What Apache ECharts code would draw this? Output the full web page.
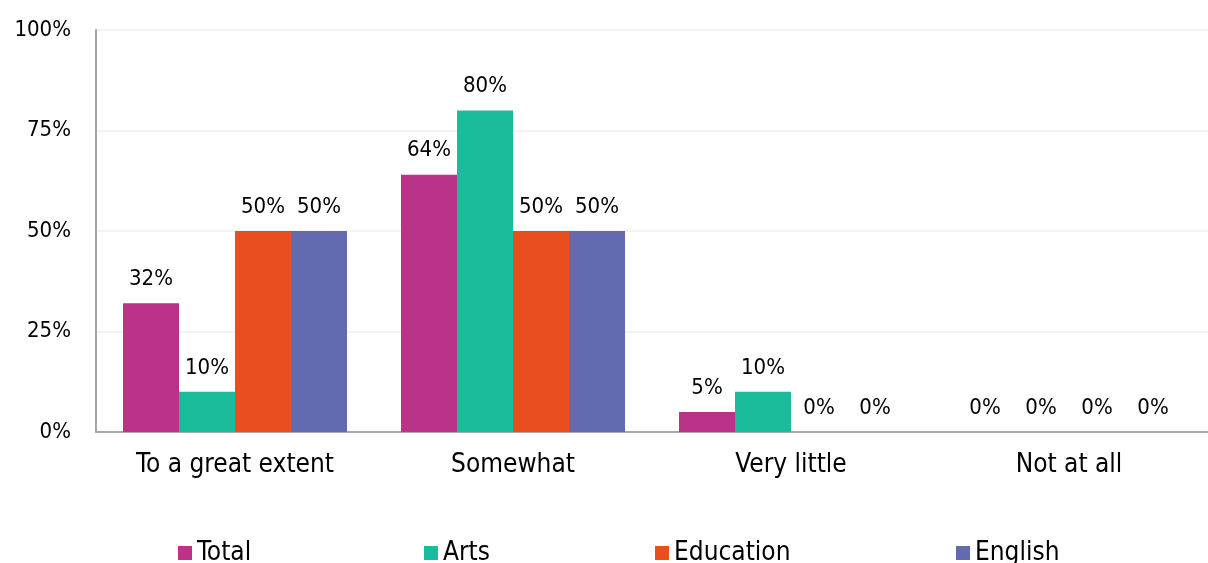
<!DOCTYPE html>
<html>
<head>
<meta charset="utf-8">
<script src="https://cdn.jsdelivr.net/npm/echarts@6/dist/echarts.min.js"></script>
<style>
  html, body { margin: 0; padding: 0; background: #ffffff; }
  #chart { width: 1208px; height: 563px; }
</style>
</head>
<body>
<div id="chart"></div>
<script>
// Extent of response, share of respondents by group
const categories = ['To a great extent', 'Somewhat', 'Very little', 'Not at all'];
const seriesNames = ['Total', 'Arts', 'Education', 'English'];
const totalValues = [32, 64, 5, 0];
const artsValues = [10, 80, 10, 0];
const educationValues = [50, 50, 0, 0];
const englishValues = [50, 50, 0, 0];
const seriesColors = ['#B93389', '#1ABC9C', '#E84E1E', '#636AAF'];
const yTicks = [0, 25, 50, 75, 100];

const FONT = '"DejaVu Sans Condensed", "DejaVu Sans", sans-serif';
const valuesBySeries = [totalValues, artsValues, educationValues, englishValues];
// horizontal placement of each legend entry
const legendLefts = [178, 424, 655, 956];

const chart = echarts.init(document.getElementById('chart'), null, { renderer: 'canvas' });

chart.setOption({
  animation: false,
  textStyle: { fontFamily: FONT },
  grid: { left: 96, right: -6, top: 30, bottom: 131, containLabel: false },
  legend: seriesNames.map((name, i) => ({
    data: [name],
    top: 540,
    left: legendLefts[i],
    padding: 0,
    itemWidth: 14,
    itemHeight: 14,
    itemGap: 0,
    icon: 'rect',
    selectedMode: false,
    textStyle: { fontFamily: FONT, fontSize: 26, lineHeight: 26, color: '#000' }
  })),
  xAxis: {
    type: 'category',
    data: categories,
    axisLine: { show: true, lineStyle: { color: '#A6A6A6', width: 2 } },
    axisTick: { show: false },
    axisLabel: { fontFamily: FONT, fontSize: 26, color: '#000', margin: 20 }
  },
  yAxis: {
    type: 'value',
    min: yTicks[0],
    max: yTicks[yTicks.length - 1],
    interval: 25,
    axisLine: { show: true, lineStyle: { color: '#A6A6A6', width: 2 } },
    axisTick: { show: false },
    splitLine: { lineStyle: { color: '#EFEFEF', width: 1.5 } },
    axisLabel: { fontFamily: FONT, fontSize: 22, color: '#000', margin: 25, formatter: '{value}%' }
  },
  series: seriesNames.map((name, i) => ({
    name: name,
    type: 'bar',
    data: valuesBySeries[i],
    barGap: '0%',
    barWidth: 56,
    itemStyle: { color: seriesColors[i] },
    label: {
      show: true,
      position: 'top',
      distance: 13,
      fontFamily: FONT,
      fontSize: 22,
      color: '#000',
      formatter: '{c}%'
    }
  }))
});
</script>
</body>
</html>
